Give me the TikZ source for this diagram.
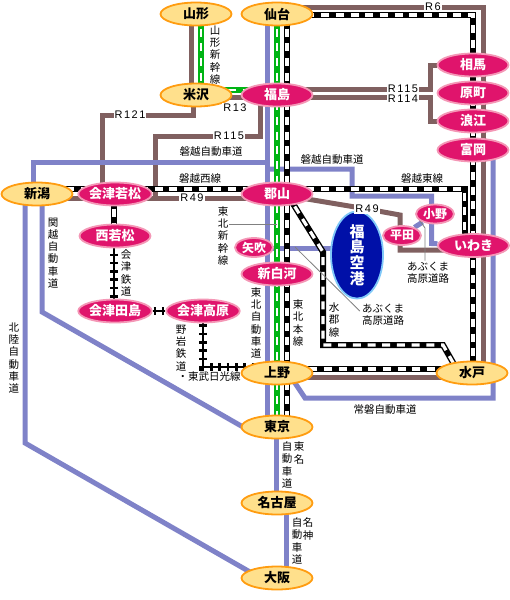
\documentclass[tikz,border=0pt]{standalone}
\usepackage{fontspec}
\setmainfont{Noto Sans CJK JP}
\newfontfamily\roadfont[LetterSpace=14]{Liberation Sans}
\usetikzlibrary{arrows.meta,backgrounds,calc,shapes.geometric}
\definecolor{stnpink}{HTML}{E0146C}
\definecolor{stnrim}{HTML}{F497B6}
\definecolor{stnyellow}{HTML}{FFE08C}
\definecolor{stnorange}{HTML}{FF9C10}
\definecolor{roadblue}{HTML}{7F82C8}
\definecolor{routebrown}{HTML}{806060}
\definecolor{shingreen}{HTML}{00B414}
\definecolor{portblue}{HTML}{0010A8}
\definecolor{portrim}{HTML}{80C8F8}
\begin{document}
\begin{tikzpicture}[x=1pt,y=-1pt,
  lab/.style={inner sep=1pt, align=center, font=\fontsize{10.5}{12.3}\selectfont},
  num/.style={inner sep=1pt, fill=white, font=\roadfont\fontsize{11}{12}\selectfont},
  mainstn/.style={ellipse, inner sep=0pt, draw=stnorange, line width=1.8pt, fill=stnyellow, minimum width=71pt, minimum height=23pt, font=\fontsize{13}{14}\selectfont\bfseries},
  localstn/.style={ellipse, inner sep=0pt, draw=stnrim, line width=1.8pt, fill=stnpink, text=white, minimum width=71pt, minimum height=23pt, font=\fontsize{13}{14}\selectfont\bfseries},
  smallstn/.style={localstn, minimum width=38pt, minimum height=19pt, font=\fontsize{12}{13}\selectfont\bfseries},
  route/.style={draw=routebrown, line width=5pt},
  road/.style={draw=roadblue, line width=5pt},
  rail/.style={draw=black, line width=6pt, postaction={draw=white, line width=3.2pt, dash pattern=on 8pt off 6.7pt}},
  shin/.style={draw=shingreen, line width=6pt, postaction={draw=white, line width=2.4pt, dash pattern=on 8pt off 6.7pt}},
  track/.style={draw=black, line width=2.6pt, postaction={draw=black, line width=8pt, dash pattern=on 2.6pt off 5.7pt, dash phase=7.4pt}},
  leader/.style={draw=gray, line width=0.8pt}
]
\useasboundingbox (0,0) rectangle (510,600);
\node[mainstn] (yamagata) at (196,14) {山形};
\node[mainstn] (sendai) at (277,14) {仙台};
\node[mainstn] (yonezawa) at (196,95) {米沢};
\node[localstn] (fukushima) at (277,95) {福島};
\node[localstn] (soma) at (473,65) {相馬};
\node[localstn] (haramachi) at (473,93) {原町};
\node[localstn] (namie) at (473,121) {浪江};
\node[localstn] (tomioka) at (473,150) {富岡};
\node[mainstn] (niigata) at (37,194) {新潟};
\node[localstn] (aizuwakamatsu) at (115,194) {会津若松};
\node[localstn] (koriyama) at (277,194) {郡山};
\node[localstn] (nishiwakamatsu) at (115,236) {西若松};
\node[smallstn] (ono) at (435,214) {小野};
\node[smallstn] (hirata) at (402,235.5) {平田};
\node[localstn] (iwaki) at (473.5,245.5) {いわき};
\node[smallstn] (yabuki) at (254,247.5) {矢吹};
\node[localstn] (shinshirakawa) at (277,274) {新白河};
\node[localstn] (aizutajima) at (115,311) {会津田島};
\node[localstn] (aizukogen) at (203,311) {会津高原};
\node[mainstn] (ueno) at (277,373) {上野};
\node[mainstn] (mito) at (472,373) {水戸};
\node[mainstn] (tokyo) at (277,427) {東京};
\node[mainstn] (nagoya) at (277,503) {名古屋};
\node[mainstn] (osaka) at (277,578) {大阪};
\node[ellipse, inner sep=0pt, draw=portrim, line width=1.8pt, fill=portblue, text=white, minimum width=52pt, minimum height=79pt, align=center, font=\fontsize{15}{15.8}\selectfont\bfseries] (airport) at (357,255) {福\\島\\空\\港};

\node[num] (r121) at (130,115) {R121};
\node[num] (r13) at (235,108) {R13};
\node[num] (r115w) at (229,136) {R115};
\node[num] (r49w) at (192,197.5) {R49};
\node[num] (r6) at (433,7) {R6};
\node[num] (r115e) at (403,88.5) {R115};
\node[num] (r114e) at (403,98.5) {R114};
\node[num] (r49e) at (367,209) {R49};

\node[lab] (yamagatashin) at (215,55) {山\\形\\新\\幹\\線};
\node[lab] (banetsuroad) at (211,152) {磐越自動車道};
\node[lab] (banetsuwest) at (200,178) {磐越西線};
\node[lab] (banetsuroade) at (332,160) {磐越自動車道};
\node[lab] (banetsueast) at (422,178) {磐越東線};
\node[lab] (kanetsu) at (53,253) {関\\越\\自\\動\\車\\道};
\node[lab] (hokuriku) at (14,358) {北\\陸\\自\\動\\車\\道};
\node[lab] (tohokushin) at (223,236) {東\\北\\新\\幹\\線};
\node[lab] (aizurail) at (126,273) {会\\津\\鉄\\道};
\node[lab] (yagan) at (181,348) {野\\岩\\鉄\\道};
\node[lab] (tobu) at (209,377) {・東武日光線};
\node[lab] (tohokuroad) at (256,323) {東\\北\\自\\動\\車\\道};
\node[lab] (tohokumain) at (298,323) {東\\北\\本\\線};
\node[lab] (suigun) at (334,320) {水\\郡\\線};
\node[lab, align=left] (abukumalow) at (383,315) {あぶくま\\高原道路};
\node[lab, align=left] (abukumaup) at (428,272.5) {あぶくま\\高原道路};
\node[lab] (joban) at (385,410) {常磐自動車道};
\node[lab] (tomeib) at (287,465) {自\\動\\車\\道};
\node[lab] (tomeia) at (299,453) {東\\名};
\node[lab] (meishinb) at (297,541) {自\\動\\車\\道};
\node[lab] (meishina) at (308,529) {名\\神};

\coordinate (r49bend) at (400,215);
\coordinate (jobanbend) at (305,398);
\coordinate (kanetsubend) at (42,312);
\coordinate (hokurikubend) at (25,443);
\coordinate (suiguna) at (323,252);
\coordinate (suigunb) at (323,345);
\coordinate (suigunc) at (443,345);
\coordinate (shinmark) at (277,224);
\coordinate (abumark) at (295,247);
\coordinate (abubend) at (425,228);

\begin{scope}[on background layer]
\draw[route] ($(yamagata)+(-5,0)$) -- ($(yonezawa)+(-5,0)$);
\draw[route] ($(yonezawa)+(-3,0)$) -- ++(0,20) -| ($(aizuwakamatsu)+(-13,0)$);
\draw[route] ($(yonezawa)+(0,2)$) -- ($(fukushima)+(0,2)$);
\draw[route] ($(fukushima)+(-17,0)$) -- ++(0,41) -| ($(koriyama)+(-122,4)$);
\draw[route] ($(niigata)+(0,4)$) -- ($(koriyama)+(0,4)$);
\draw[route] (koriyama.center) -- (r49e.center) -- (r49bend) |- ($(iwaki)+(0,4.5)$);
\draw[route] ($(sendai)+(0,-7)$) -| ($(mito)+(11,4)$) -- ($(ueno)+(0,4)$);
\draw[route] ($(fukushima)+(0,-6)$) -| ($(soma)+(-43,0)$) -- (soma);
\draw[route] ($(fukushima)+(0,2)$) -| ($(namie)+(-43,0)$) -- (namie);

\draw[road] ($(sendai)+(-10,0)$) -- ($(tokyo)+(-10,0)$);
\draw[road] ($(niigata)+(-4,0)$) |- ($(fukushima)+(-11,67)$);
\draw[road] ($(koriyama)+(-10,-25)$) -| ($(koriyama)+(75,2)$) -| ($(iwaki)+(-42,-2)$) -- (iwaki);
\draw[road] (ono) -- (hirata);
\draw[road] ($(yabuki)+(12,0.5)$) -- ($(airport)+(-20,-7)$);
\draw[road] ($(ueno)+(12,1)$) -- (jobanbend) -| ($(tomioka)+(20,0)$);
\draw[road] ($(niigata)+(5,0)$) -- (kanetsubend) -- ($(tokyo)+(-20,8)$);
\draw[road] ($(niigata)+(-12,0)$) -- (hokurikubend) -- ($(osaka)+(-20,-2)$);
\draw[road] ($(tokyo)+(-1,0)$) -- ($(nagoya)+(-1,0)$);
\draw[road] ($(nagoya)+(9,0)$) -- ($(osaka)+(9,0)$);

\draw[rail] ($(sendai)+(0,1)$) -| ($(mito)+(1,-4)$) -- ($(ueno)+(0,-4)$);
\draw[rail] ($(sendai)+(10,0)$) -- ($(tokyo)+(10,0)$);
\draw[rail] ($(niigata)+(0,-5)$) -- ($(koriyama)+(0,-5)$);
\draw[rail] ($(koriyama)+(0,-5)$) -| ($(iwaki)+(-9,0)$);
\draw[rail] ($(aizuwakamatsu)+(-1,0)$) -- ($(nishiwakamatsu)+(-1,0)$);
\draw[rail] ($(koriyama)+(10,0)$) -- (suiguna) -- (suigunb) -- (suigunc) -- ($(mito)+(-13,0)$);

\draw[shin] (sendai.center) -- (tokyo.center);
\draw[shin] ($(yamagata)+(5,0)$) -- ($(yonezawa)+(5,-5)$) -- ($(fukushima)+(0,-5)$);

\draw[track] ($(nishiwakamatsu)+(-1,0)$) -- ($(aizutajima)+(-1,0)$);
\draw[track] (aizutajima) -- (aizukogen);
\draw[track] (aizukogen.south) |- ($(ueno)+(0,-6)$);

\draw[leader] (tohokushin.east |- shinmark) -- (shinmark);
\draw[leader] (abumark) -- ($(abukumalow.west)+(-1,-4)$);
\draw[leader] ($(ono)+(-17,4)$) -- (abubend) -- (abubend |- abukumaup.north);
\end{scope}
\end{tikzpicture}
\end{document}
